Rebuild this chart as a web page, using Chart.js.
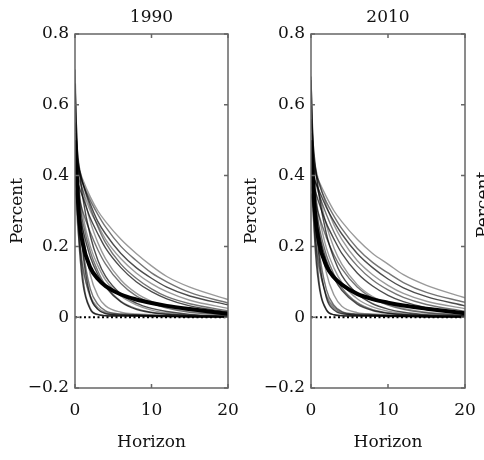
<!DOCTYPE html>
<html>
<head>
<meta charset="utf-8">
<script src="https://cdn.jsdelivr.net/npm/chart.js@4.4.0/dist/chart.umd.min.js"></script>
<style>
html, body { margin: 0; padding: 0; background: #fff; width: 484px; height: 460px; overflow: hidden; }
canvas { position: absolute; top: 0; }
#c1990 { left: 0; }
#c2010 { left: 234px; }
#nextLabel {
  position: absolute; left: 449px; top: 195px; width: 66px; height: 20px;
  line-height: 20px; text-align: center; font: 17px "DejaVu Serif", serif; color: #111;
  transform: rotate(-90deg);
}
</style>
</head>
<body>
<canvas id="c1990" width="242" height="460"></canvas>
<canvas id="c2010" width="250" height="460"></canvas>
<div id="nextLabel">Percent</div>
<script>
// horizons at which each response is sampled
const horizon = [0, 0.5, 1, 2, 3, 4, 6, 8, 10, 12, 15, 20];
const xTicks = [0, 10, 20];
const yTicks = [-0.2, 0, 0.2, 0.4, 0.6, 0.8];

// median response, one per sample year
const median1990 = [0.50, 0.29, 0.21, 0.14, 0.108, 0.088, 0.064, 0.05, 0.04, 0.032, 0.023, 0.01];
const median2010 = [0.50, 0.30, 0.215, 0.145, 0.112, 0.092, 0.066, 0.051, 0.041, 0.033, 0.024, 0.011];

// individual draws
const draws1990 = [
  [0.45, 0.42, 0.39, 0.34, 0.30, 0.27, 0.22, 0.18, 0.145, 0.115, 0.085, 0.05],
  [0.44, 0.41, 0.38, 0.33, 0.29, 0.255, 0.20, 0.16, 0.125, 0.10, 0.07, 0.04],
  [0.46, 0.42, 0.38, 0.32, 0.27, 0.235, 0.18, 0.14, 0.11, 0.085, 0.06, 0.035],
  [0.42, 0.39, 0.36, 0.30, 0.26, 0.22, 0.165, 0.125, 0.095, 0.072, 0.048, 0.025],
  [0.48, 0.43, 0.38, 0.31, 0.255, 0.21, 0.15, 0.11, 0.08, 0.058, 0.038, 0.018],
  [0.40, 0.37, 0.34, 0.28, 0.235, 0.195, 0.14, 0.10, 0.072, 0.052, 0.032, 0.015],
  [0.50, 0.42, 0.36, 0.27, 0.21, 0.165, 0.105, 0.068, 0.045, 0.03, 0.018, 0.008],
  [0.38, 0.34, 0.30, 0.24, 0.19, 0.15, 0.095, 0.06, 0.04, 0.026, 0.014, 0.006],
  [0.55, 0.43, 0.34, 0.23, 0.16, 0.115, 0.065, 0.04, 0.025, 0.016, 0.008, 0.003],
  [0.45, 0.36, 0.29, 0.20, 0.145, 0.105, 0.06, 0.035, 0.02, 0.012, 0.006, 0.002],
  [0.40, 0.33, 0.27, 0.185, 0.13, 0.09, 0.045, 0.024, 0.014, 0.009, 0.005, 0.002],
  [0.36, 0.30, 0.25, 0.17, 0.12, 0.085, 0.043, 0.022, 0.013, 0.008, 0.004, 0.002],
  [0.60, 0.38, 0.25, 0.12, 0.06, 0.032, 0.014, 0.009, 0.007, 0.005, 0.003, 0.001],
  [0.52, 0.32, 0.20, 0.08, 0.036, 0.018, 0.009, 0.007, 0.005, 0.004, 0.002, 0.001],
  [0.66, 0.35, 0.19, 0.06, 0.022, 0.01, 0.006, 0.005, 0.004, 0.003, 0.002, 0.001],
  [0.42, 0.25, 0.15, 0.055, 0.022, 0.011, 0.006, 0.005, 0.004, 0.003, 0.002, 0.001],
  [0.70, 0.28, 0.12, 0.025, 0.008, 0.005, 0.004, 0.003, 0.003, 0.002, 0.001, 0.001],
  [0.48, 0.22, 0.10, 0.022, 0.007, 0.004, 0.003, 0.003, 0.002, 0.002, 0.001, 0.001],
  [0.35, 0.22, 0.14, 0.06, 0.027, 0.014, 0.008, 0.006, 0.005, 0.004, 0.002, 0.001]
];
const draws2010 = [
  [0.44, 0.41, 0.385, 0.34, 0.30, 0.27, 0.22, 0.18, 0.15, 0.12, 0.09, 0.055],
  [0.46, 0.42, 0.38, 0.325, 0.285, 0.25, 0.195, 0.155, 0.125, 0.098, 0.07, 0.042],
  [0.41, 0.385, 0.36, 0.31, 0.27, 0.235, 0.18, 0.14, 0.108, 0.083, 0.058, 0.032],
  [0.48, 0.43, 0.385, 0.315, 0.26, 0.22, 0.16, 0.12, 0.09, 0.067, 0.045, 0.024],
  [0.43, 0.39, 0.35, 0.29, 0.24, 0.20, 0.145, 0.105, 0.077, 0.056, 0.036, 0.017],
  [0.39, 0.36, 0.325, 0.265, 0.22, 0.18, 0.125, 0.088, 0.062, 0.044, 0.027, 0.012],
  [0.52, 0.43, 0.36, 0.26, 0.195, 0.15, 0.092, 0.058, 0.038, 0.025, 0.014, 0.006],
  [0.37, 0.33, 0.29, 0.225, 0.175, 0.137, 0.085, 0.053, 0.034, 0.022, 0.012, 0.005],
  [0.56, 0.44, 0.35, 0.235, 0.165, 0.118, 0.066, 0.038, 0.023, 0.014, 0.007, 0.003],
  [0.44, 0.355, 0.29, 0.195, 0.138, 0.098, 0.052, 0.029, 0.017, 0.01, 0.005, 0.002],
  [0.40, 0.32, 0.26, 0.175, 0.12, 0.083, 0.041, 0.021, 0.012, 0.008, 0.004, 0.002],
  [0.35, 0.29, 0.24, 0.16, 0.11, 0.076, 0.037, 0.019, 0.011, 0.007, 0.004, 0.002],
  [0.62, 0.39, 0.26, 0.125, 0.062, 0.031, 0.013, 0.009, 0.007, 0.005, 0.003, 0.001],
  [0.50, 0.31, 0.195, 0.078, 0.033, 0.016, 0.009, 0.007, 0.005, 0.004, 0.002, 0.001],
  [0.67, 0.34, 0.18, 0.055, 0.02, 0.01, 0.006, 0.005, 0.004, 0.003, 0.002, 0.001],
  [0.43, 0.26, 0.155, 0.058, 0.024, 0.012, 0.006, 0.005, 0.004, 0.003, 0.002, 0.001],
  [0.68, 0.27, 0.11, 0.022, 0.007, 0.005, 0.004, 0.003, 0.003, 0.002, 0.001, 0.001],
  [0.47, 0.21, 0.095, 0.02, 0.007, 0.004, 0.003, 0.003, 0.002, 0.002, 0.001, 0.001],
  [0.36, 0.23, 0.145, 0.063, 0.028, 0.014, 0.008, 0.006, 0.005, 0.004, 0.002, 0.001]
];

const FONT = { family: '"DejaVu Serif", serif', size: 17 };
const INK = '#111';

function toPoints(values) {
  return values.map((v, i) => ({ x: horizon[i], y: v }));
}

function fmt(v) {
  if (Math.abs(v) < 1e-9) return '0';
  return (v < 0 ? '\u2212' : '') + Math.abs(v).toFixed(1);
}

// box around the plot with small inward ticks on every side
const frame = {
  id: 'frame',
  afterDatasetsDraw(chart) {
    const { ctx, chartArea: a, scales } = chart;
    const t = 4;
    ctx.save();
    ctx.strokeStyle = '#666';
    ctx.lineWidth = 1.5;
    ctx.strokeRect(a.left, a.top, a.right - a.left, a.bottom - a.top);
    ctx.beginPath();
    xTicks.forEach(v => {
      const px = scales.x.getPixelForValue(v);
      ctx.moveTo(px, a.top); ctx.lineTo(px, a.top + t);
      ctx.moveTo(px, a.bottom); ctx.lineTo(px, a.bottom - t);
    });
    yTicks.forEach(v => {
      const py = scales.y.getPixelForValue(v);
      ctx.moveTo(a.left, py); ctx.lineTo(a.left + t, py);
      ctx.moveTo(a.right, py); ctx.lineTo(a.right - t, py);
    });
    ctx.stroke();
    ctx.restore();
  }
};

function makePanel(id, year, median, draws, yWidth, padRight) {
  const datasets = [];
  datasets.push({
    data: [{ x: 0, y: 0 }, { x: 20, y: 0 }],
    borderColor: '#000', borderWidth: 2, borderDash: [2, 2.5], pointRadius: 0
  });
  datasets.push({
    data: toPoints(median),
    borderColor: '#000', borderWidth: 4, pointRadius: 0,
    cubicInterpolationMode: 'monotone'
  });
  draws.forEach((d, i) => {
    datasets.push({
      data: toPoints(d),
      borderColor: 'rgba(0,0,0,' + (0.4 + 0.15 * (i % 3)) + ')',
      borderWidth: 1.4, pointRadius: 0,
      cubicInterpolationMode: 'monotone'
    });
  });

  return new Chart(document.getElementById(id), {
    type: 'line',
    data: { datasets },
    options: {
      responsive: false,
      animation: false,
      layout: { padding: { left: 0, right: padRight, top: 0, bottom: 0 } },
      plugins: { legend: { display: false }, tooltip: { enabled: false } },
      scales: {
        x: {
          type: 'linear', position: 'bottom', min: 0, max: 20,
          afterFit: s => { s.height = 72; },
          afterBuildTicks: s => { s.ticks = xTicks.map(v => ({ value: v })); },
          // tick marks hidden; their length only spaces the labels
          grid: { display: false, drawTicks: true, tickLength: 11 },
          border: { display: false },
          ticks: { font: FONT, color: INK, padding: 1, maxRotation: 0, callback: v => String(v) },
          title: { display: true, text: 'Horizon', font: FONT, color: INK, padding: { top: 0, bottom: 7 } }
        },
        top: {
          type: 'linear', position: 'top', min: 0, max: 20,
          afterFit: s => { s.height = 34; },
          grid: { display: false, drawTicks: false },
          border: { display: false },
          ticks: { display: false },
          title: { display: true, text: year, font: FONT, color: INK, padding: { top: 7, bottom: 0 } }
        },
        y: {
          min: -0.2, max: 0.8,
          afterFit: s => { s.width = yWidth; },
          afterBuildTicks: s => { s.ticks = yTicks.map(v => ({ value: v })); },
          grid: { display: false, drawTicks: false },
          border: { display: false },
          ticks: { font: FONT, color: INK, padding: 6, callback: v => fmt(v) },
          title: { display: true, text: 'Percent', font: FONT, color: INK, padding: { top: 7, bottom: 0 } }
        }
      }
    },
    plugins: [frame]
  });
}

makePanel('c1990', '1990', median1990, draws1990, 75, 14);
makePanel('c2010', '2010', median2010, draws2010, 77, 19);
</script>
</body>
</html>
